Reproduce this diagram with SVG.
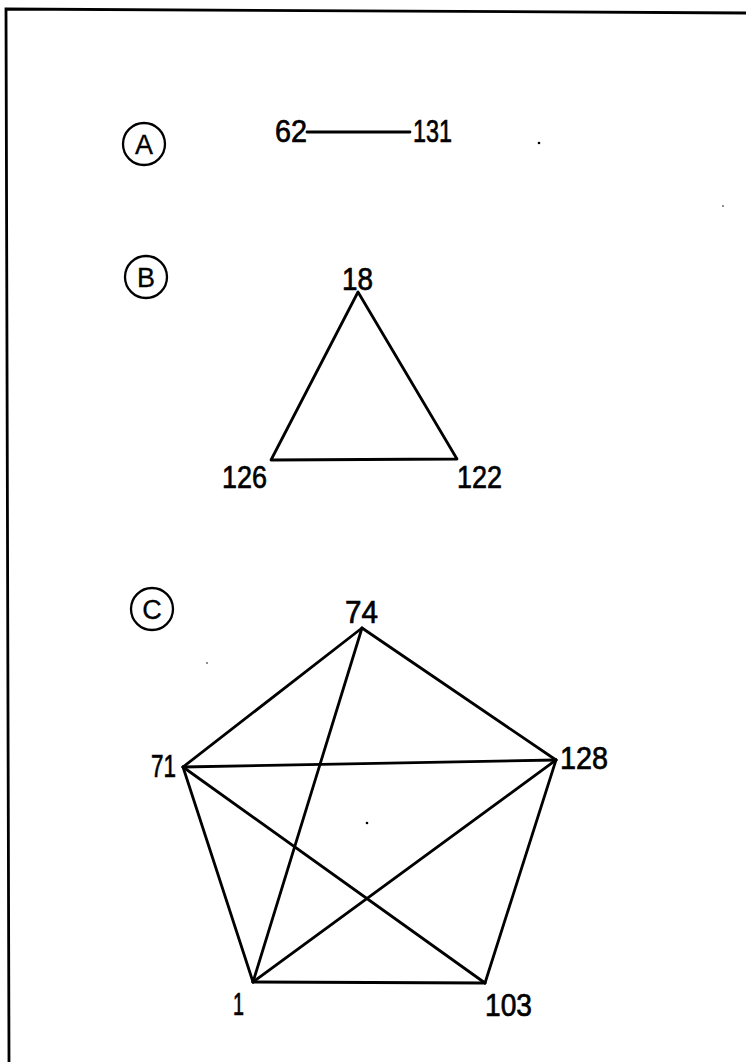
<svg xmlns="http://www.w3.org/2000/svg" width="746" height="1062" viewBox="0 0 746 1062">
<style>
.frame{fill:none;stroke:#000;stroke-width:2.8}
.edge{fill:none;stroke:#000;stroke-width:2.8;stroke-linecap:round;stroke-linejoin:round}
.lbl{font-family:"Liberation Sans",Arial,sans-serif;font-size:32px;fill:#000;stroke:#000;stroke-width:0.7}
.ring{fill:none;stroke:#000;stroke-width:2.3}
.let{font-family:"Liberation Sans",Arial,sans-serif;font-size:27px;fill:#000;text-anchor:middle;stroke:#000;stroke-width:0.3}
.speck{fill:#000}
</style>
<rect width="746" height="1062" fill="#fff"/>
<g id="frame">
<polyline class="frame" points="746,13 6,9 9,1062"/>
</g>
<g id="marker-A"><circle class="ring" cx="144" cy="144" r="21"/><text class="let" x="144" y="154">A</text></g>
<g id="marker-B"><circle class="ring" cx="146" cy="277" r="21"/><text class="let" x="146" y="287">B</text></g>
<g id="marker-C"><circle class="ring" cx="152" cy="609" r="21"/><text class="let" x="152" y="619">C</text></g>
<g id="connectors">
<line class="edge" x1="307" y1="132" x2="410" y2="132"/>
<polygon class="edge" points="358,292 271,460 457,459"/>
<line class="edge" x1="362" y1="628" x2="183" y2="767"/>
<line class="edge" x1="362" y1="628" x2="556" y2="760"/>
<line class="edge" x1="362" y1="628" x2="253" y2="982"/>
<line class="edge" x1="183" y1="767" x2="556" y2="760"/>
<line class="edge" x1="183" y1="767" x2="253" y2="982"/>
<line class="edge" x1="183" y1="767" x2="485" y2="983"/>
<line class="edge" x1="556" y1="760" x2="253" y2="982"/>
<line class="edge" x1="556" y1="760" x2="485" y2="983"/>
<line class="edge" x1="253" y1="982" x2="485" y2="983"/>
</g>
<g id="node-62"><text class="lbl" x="275" y="142" textLength="32" lengthAdjust="spacingAndGlyphs">62</text></g>
<g id="node-131"><text class="lbl" x="413" y="142" textLength="39" lengthAdjust="spacingAndGlyphs">131</text></g>
<g id="node-18"><text class="lbl" x="342" y="290" textLength="31" lengthAdjust="spacingAndGlyphs">18</text></g>
<g id="node-126"><text class="lbl" x="222" y="488" textLength="45" lengthAdjust="spacingAndGlyphs">126</text></g>
<g id="node-122"><text class="lbl" x="457" y="488" textLength="45" lengthAdjust="spacingAndGlyphs">122</text></g>
<g id="node-74"><text class="lbl" x="345" y="623" textLength="33" lengthAdjust="spacingAndGlyphs">74</text></g>
<g id="node-71"><text class="lbl" x="151" y="777" textLength="25" lengthAdjust="spacingAndGlyphs">71</text></g>
<g id="node-128"><text class="lbl" x="560" y="769" textLength="48" lengthAdjust="spacingAndGlyphs">128</text></g>
<g id="node-1"><text class="lbl" x="233" y="1015" textLength="11" lengthAdjust="spacingAndGlyphs">1</text></g>
<g id="node-103"><text class="lbl" x="485" y="1016" textLength="47" lengthAdjust="spacingAndGlyphs">103</text></g>
<g id="specks">
<circle class="speck" cx="539" cy="143" r="1.3"/>
<circle class="speck" cx="367" cy="823" r="1.3"/>
<circle class="speck" cx="207" cy="663" r="0.8"/>
<circle class="speck" cx="723" cy="206" r="0.8"/>
</g>
</svg>
